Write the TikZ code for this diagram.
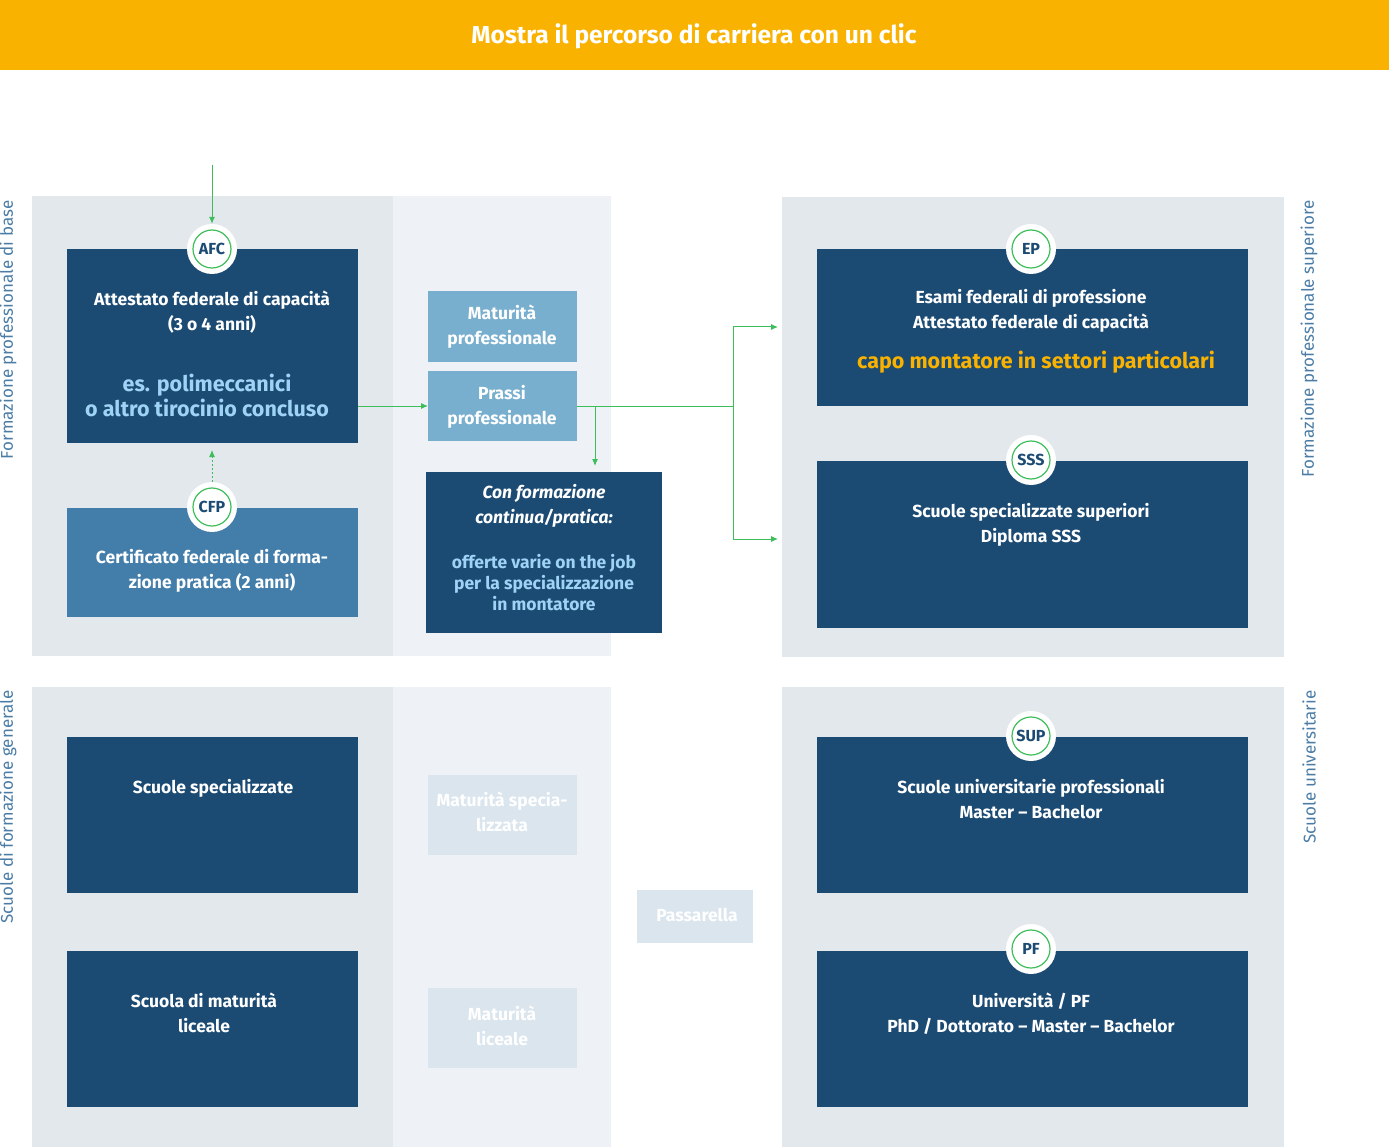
\documentclass[tikz,border=0pt]{standalone}
\usepackage{fontspec}
\setmainfont{Fira Sans}
\usetikzlibrary{arrows.meta}
\definecolor{headorange}{HTML}{F9B200}
\definecolor{darkblue}{HTML}{1B4A73}
\definecolor{midblue}{HTML}{437EAB}
\definecolor{lightblue}{HTML}{78AFCE}
\definecolor{paleblue}{HTML}{9FD3F5}
\definecolor{panelA}{HTML}{E3E8ED}
\definecolor{panelB}{HTML}{EEF2F6}
\definecolor{faint}{HTML}{DAE5EE}
\definecolor{arrowgreen}{HTML}{3DBE5A}
\definecolor{sidetext}{HTML}{4A7CA6}
\begin{document}
\begin{tikzpicture}[x=1pt, y=-1pt,
                      box/.style = {draw = none, inner sep = 0pt, anchor = north west},
                      txt/.style = {text = white, font = \fontsize{17.5}{25}\selectfont\bfseries, align = center, anchor = north},
                      badge/.style = {circle, draw = arrowgreen, line width = 1.2pt, fill = white, minimum size = 38pt, inner sep = 0pt,
                                      text = darkblue, font = \fontsize{16}{16}\selectfont\bfseries},
                      ring/.style = {circle, fill = white, minimum size = 50pt},
                      side/.style = {rotate = 90, anchor = east, text = sidetext, font = \fontsize{17}{17}\selectfont},
                      link/.style = {draw = arrowgreen, line width = 1pt, -{Latex[length=7pt,width=6pt]}}]
    \useasboundingbox (0,0) rectangle (1389,1147);
    % header
    \node [box, fill = headorange, minimum width = 1389pt, minimum height = 70pt] (head) at (0,0) {};
    \node [text = white, font = \fontsize{24.5}{24.5}\selectfont\bfseries] (title) at (694,36) {Mostra il percorso di carriera con un clic};

    % panels
    \fill [panelA] (32,196) rectangle (393,656);
    \fill [panelB] (393,196) rectangle (611,656);
    \fill [panelA] (782,197) rectangle (1284,657);
    \fill [panelA] (32,687) rectangle (393,1147);
    \fill [panelB] (393,687) rectangle (611,1147);
    \fill [panelA] (782,687) rectangle (1284,1147);

    \node [side] (sideA) at (8,197) {Formazione professionale di base};
    \node [side] (sideB) at (8,687) {Scuole di formazione generale};
    \node [side] (sideC) at (1309,197) {Formazione professionale superiore};
    \node [side] (sideD) at (1309,687) {Scuole universitarie};

    % boxes
    \node [box, fill = darkblue, minimum width = 291pt, minimum height = 194pt] (afc) at (67,249) {};
    \node [box, fill = midblue, minimum width = 291pt, minimum height = 109pt] (cfp) at (67,508) {};
    \node [box, fill = lightblue, minimum width = 149pt, minimum height = 71pt] (matp) at (428,291) {};
    \node [box, fill = lightblue, minimum width = 149pt, minimum height = 70pt] (prassi) at (428,371) {};
    \node [box, fill = darkblue, minimum width = 236pt, minimum height = 161pt] (conf) at (426,472) {};
    \node [box, fill = darkblue, minimum width = 431pt, minimum height = 157pt] (ep) at (817,249) {};
    \node [box, fill = darkblue, minimum width = 431pt, minimum height = 167pt] (sss) at (817,461) {};
    \node [box, fill = darkblue, minimum width = 291pt, minimum height = 156pt] (scsp) at (67,737) {};
    \node [box, fill = darkblue, minimum width = 291pt, minimum height = 156pt] (scmat) at (67,951) {};
    \node [box, fill = faint, minimum width = 149pt, minimum height = 80pt] (mats) at (428,775) {};
    \node [box, fill = faint, minimum width = 149pt, minimum height = 80pt] (matl) at (428,988) {};
    \node [box, fill = faint, minimum width = 116pt, minimum height = 53pt] (pass) at (637,890) {};
    \node [box, fill = darkblue, minimum width = 431pt, minimum height = 156pt] (sup) at (817,737) {};
    \node [box, fill = darkblue, minimum width = 431pt, minimum height = 156pt] (pf) at (817,951) {};

    % texts
    \node [txt] (afcT) at (212,287) {Attestato federale di capacità\\(3 o 4 anni)};
    \node [txt, text = paleblue, font = \fontsize{21.5}{25}\selectfont\bfseries] (afcE) at (207,371) {es. polimeccanici\\o altro tirocinio concluso};
    \node [txt] (cfpT) at (212,546) {Certificato federale di forma-\\zione pratica (2 anni)};
    \node [txt] (matpT) at (502,301) {Maturità\\professionale};
    \node [txt] (prassiT) at (502,382) {Prassi\\professionale};
    \node [txt, font = \fontsize{17.5}{25}\selectfont\bfseries\itshape] (confT) at (544,481) {Con formazione\\continua/pratica:};
    \node [txt, text = paleblue, font = \fontsize{17.5}{21}\selectfont\bfseries] (confE) at (544,551) {offerte varie on the job\\per la specializzazione\\in montatore};
    \node [txt] (epT) at (1031,286) {Esami federali di professione\\Attestato federale di capacità};
    \node [txt, text = headorange, font = \fontsize{21.5}{25}\selectfont\bfseries] (epE) at (1036,348) {capo montatore in settori particolari};
    \node [txt] (sssT) at (1031,500) {Scuole specializzate superiori\\Diploma SSS};
    \node [txt] (scspT) at (213,776) {Scuole specializzate};
    \node [txt] (scmatT) at (204,989) {Scuola di maturità\\liceale};
    \node [txt] (matsT) at (502,788) {Maturità specia-\\lizzata};
    \node [txt] (matlT) at (502,1002) {Maturità\\liceale};
    \node [txt] (passT) at (697,905) {Passarella};
    \node [txt] (supT) at (1031,776) {Scuole universitarie professionali\\Master – Bachelor};
    \node [txt] (pfT) at (1031,989) {Università / PF\\PhD / Dottorato – Master – Bachelor};

    % badges
    \foreach \n/\x/\y in {AFC/212/249, CFP/212/507, EP/1031/249, SSS/1031/460, SUP/1031/736, PF/1031/949}{
        \node [ring] (r\n) at (\x,\y) {};
        \node [badge] (b\n) at (\x,\y) {\n};
    }

    % connectors
    \coordinate (start) at (212,165);
    \coordinate (split) at (733,406);
    \coordinate (epIn) at (778,327);
    \coordinate (sssIn) at (778,539);
    \coordinate (fork) at (595,406);
    \coordinate (confIn) at (595,466);
    \draw [link] (start) -- (rAFC.north);
    \draw [link] (afc.east |- split) -- (prassi.west |- split);
    \draw [link, dashed, dash pattern = on 2pt off 2pt] (rCFP.north) -- (212,450);
    \draw [draw = arrowgreen, line width = 1pt] (prassi.east |- split) -- (split);
    \draw [link] (fork) -- (confIn);
    \draw [link] (split) |- (epIn);
    \draw [link] (split) |- (sssIn);
\end{tikzpicture}
\end{document}
